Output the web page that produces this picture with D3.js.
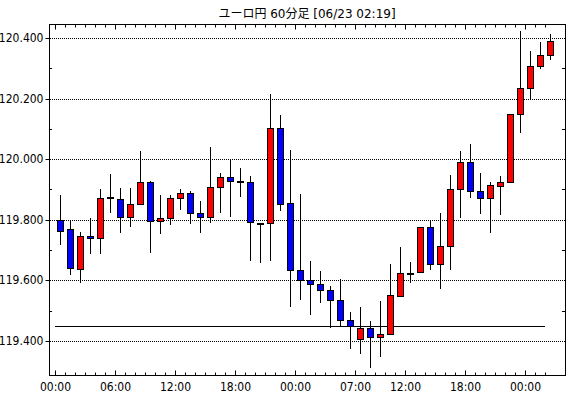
<!DOCTYPE html>
<html lang="ja">
<head>
    <meta charset="UTF-8">
    <title>ユーロ円 60分足</title>
    <script src="https://d3js.org/d3.v7.min.js"></script>
    <style>
        body {
            margin: 0;
            background: #fff;
        }
        svg {
            display: block;
        }
        .axis text {
            font-family: "Liberation Sans Narrow", "DejaVu Sans Condensed", sans-serif;
            font-size: 12px;
            fill: #000;
        }
        .title {
            font-family: "DejaVu Sans", "Noto Sans CJK JP", sans-serif;
            font-size: 12px;
            fill: #000;
        }
    </style>
</head>
<body>
    <svg id="chart"></svg>

    <script>
        // OHLC per hour slot
        const opens  = [119.800, 119.770, 119.638, 119.748, 119.740, 119.874, 119.869, 119.808, 119.852, 119.925,
                        119.797, 119.805, 119.871, 119.888, 119.823, 119.809, 119.908, 119.941, 119.927, 119.925,
                        119.791, 119.789, 120.103, 119.855, 119.634, 119.601, 119.588, 119.568, 119.535, 119.469,
                        119.407, 119.443, 119.413, 119.423, 119.550, 119.625, 119.628, 119.776, 119.654, 119.714,
                        119.902, 119.991, 119.895, 119.872, 119.912, 119.925, 120.149, 120.235, 120.308, 120.345];
        const highs  = [119.883, 119.800, 119.761, 119.807, 119.903, 119.950, 119.906, 119.906, 120.028, 119.928,
                        119.883, 119.882, 119.902, 119.894, 119.862, 120.039, 119.955, 120.002, 119.972, 119.946,
                        119.791, 120.216, 120.147, 120.031, 119.886, 119.665, 119.632, 119.583, 119.606, 119.496,
                        119.512, 119.466, 119.531, 119.654, 119.711, 119.662, 119.776, 119.799, 119.824, 119.947,
                        120.028, 120.049, 119.956, 119.925, 119.943, 120.149, 120.424, 120.358, 120.386, 120.414];
        const lows   = [119.716, 119.617, 119.590, 119.686, 119.686, 119.824, 119.758, 119.775, 119.852, 119.692,
                        119.752, 119.782, 119.834, 119.785, 119.755, 119.788, 119.824, 119.808, 119.874, 119.665,
                        119.656, 119.665, 119.828, 119.511, 119.534, 119.485, 119.527, 119.443, 119.448, 119.374,
                        119.357, 119.310, 119.347, 119.423, 119.550, 119.591, 119.627, 119.633, 119.572, 119.634,
                        119.805, 119.872, 119.819, 119.756, 119.815, 119.925, 120.088, 120.199, 120.296, 120.326];
        const closes = [119.763, 119.641, 119.747, 119.740, 119.872, 119.874, 119.808, 119.853, 119.925, 119.796,
                        119.806, 119.872, 119.888, 119.822, 119.808, 119.908, 119.941, 119.927, 119.927, 119.793,
                        119.791, 120.103, 119.852, 119.634, 119.601, 119.588, 119.568, 119.535, 119.469, 119.450,
                        119.443, 119.413, 119.423, 119.552, 119.624, 119.625, 119.776, 119.654, 119.714, 119.902,
                        119.991, 119.895, 119.872, 119.916, 119.925, 120.149, 120.235, 120.308, 120.345, 120.391];

        // time axis labels
        const labelSlots = [0, 6, 12, 18, 24, 30, 35, 41, 47];
        const labelTexts = ["00:00", "06:00", "12:00", "18:00", "00:00", "07:00", "12:00", "18:00", "00:00"];

        // price axis
        const priceLabels = [119.4, 119.6, 119.8, 120.0, 120.2, 120.4];
        const priceMinor = [119.5, 119.7, 119.9, 120.1, 120.3];
        const refLine = 119.45;

        const W = 570, H = 398;
        const plot = { left: 49, right: 565, top: 24, bottom: 375 };
        const n = opens.length;

        const svg = d3.select("#chart")
                      .attr("width", W)
                      .attr("height", H);

        const x = d3.scaleLinear()
                    .domain([0, n - 1])
                    .range([55, 545]);

        const y = d3.scaleLinear()
                    .domain([119.288, 120.446])
                    .range([plot.bottom, plot.top]);

        const px = v => Math.round(v) + 0.5;

        // Title
        svg.append("text")
           .attr("class", "title")
           .attr("x", (plot.left + plot.right) / 2)
           .attr("y", 18)
           .attr("text-anchor", "middle")
           .text("ユーロ円 60分足 [06/23 02:19]");

        // Grid lines (dotted)
        svg.append("g")
           .selectAll("line")
           .data(priceLabels)
           .enter()
           .append("line")
           .attr("x1", plot.left + 1)
           .attr("x2", plot.right)
           .attr("y1", d => px(y(d)))
           .attr("y2", d => px(y(d)))
           .attr("stroke", "#000")
           .attr("stroke-dasharray", "1,1");

        // Left axis: labels with outward ticks
        const majorSet = new Set(labelSlots);
        const leftAxis = svg.append("g")
           .attr("class", "axis")
           .attr("transform", `translate(${plot.left + 0.5},0)`)
           .call(d3.axisLeft(y)
                   .tickValues(priceLabels)
                   .tickSize(4)
                   .tickPadding(2)
                   .tickFormat(d3.format(".3f")));
        leftAxis.select(".domain").remove();
        leftAxis.selectAll(".tick").attr("transform", d => `translate(0,${px(y(d))})`);

        // minor price ticks, inward on both sides
        svg.append("g")
           .selectAll("line")
           .data(priceMinor)
           .enter()
           .append("line")
           .attr("x1", plot.left)
           .attr("x2", plot.left + 3)
           .attr("y1", d => px(y(d)))
           .attr("y2", d => px(y(d)))
           .attr("stroke", "#000");
        svg.append("g")
           .selectAll("line")
           .data(priceMinor)
           .enter()
           .append("line")
           .attr("x1", plot.right - 3)
           .attr("x2", plot.right + 1)
           .attr("y1", d => px(y(d)))
           .attr("y2", d => px(y(d)))
           .attr("stroke", "#000");

        // Bottom axis: hourly ticks pointing up, labels at selected slots
        const bottomAxis = svg.append("g")
           .attr("class", "axis")
           .attr("transform", `translate(0,${plot.bottom + 0.5})`)
           .call(d3.axisBottom(x)
                   .tickValues(d3.range(n))
                   .tickSize(0)
                   .tickPadding(7)
                   .tickFormat(i => majorSet.has(i) ? labelTexts[labelSlots.indexOf(i)] : ""));
        bottomAxis.select(".domain").remove();
        bottomAxis.selectAll(".tick").attr("transform", d => `translate(${px(x(d))},0)`);
        bottomAxis.selectAll(".tick line")
                  .attr("y2", d => majorSet.has(d) ? -5 : -3);

        // Top axis: same ticks pointing down
        const topAxis = svg.append("g")
           .attr("transform", `translate(0,${plot.top + 0.5})`)
           .call(d3.axisTop(x)
                   .tickValues(d3.range(n))
                   .tickSize(0)
                   .tickFormat(""));
        topAxis.select(".domain").remove();
        topAxis.selectAll(".tick").attr("transform", d => `translate(${px(x(d))},0)`);
        topAxis.selectAll(".tick line")
               .attr("y2", d => majorSet.has(d) ? 5 : 3);

        // Frame
        svg.append("rect")
           .attr("x", plot.left + 0.5)
           .attr("y", plot.top + 0.5)
           .attr("width", plot.right - plot.left)
           .attr("height", plot.bottom - plot.top)
           .attr("fill", "none")
           .attr("stroke", "#000");

        // Reference line
        svg.append("line")
           .attr("x1", x(0))
           .attr("x2", x(n - 1))
           .attr("y1", px(y(refLine)))
           .attr("y2", px(y(refLine)))
           .attr("stroke", "#000");

        // Candles
        const candles = d3.range(n).map(i => ({
            i: i, o: opens[i], h: highs[i], l: lows[i], c: closes[i]
        }));

        const g = svg.append("g");

        g.selectAll(".wick")
         .data(candles)
         .enter()
         .append("line")
         .attr("class", "wick")
         .attr("x1", d => px(x(d.i + 0.5)))
         .attr("x2", d => px(x(d.i + 0.5)))
         .attr("y1", d => Math.round(y(d.h)))
         .attr("y2", d => Math.round(y(d.l)))
         .attr("stroke", "#000");

        g.selectAll(".body")
         .data(candles)
         .enter()
         .append("rect")
         .attr("class", "body")
         .attr("x", d => Math.round(x(d.i + 0.5)) - 3 + 0.5)
         .attr("y", d => Math.round(y(Math.max(d.o, d.c))) + 0.5)
         .attr("width", 6)
         .attr("height", d => Math.max(1, Math.round(y(Math.min(d.o, d.c))) - Math.round(y(Math.max(d.o, d.c)))))
         .attr("fill", d => d.c > d.o ? "#ff0000" : d.c < d.o ? "#0000ff" : "#000")
         .attr("stroke", "#000");
    </script>
</body>
</html>
